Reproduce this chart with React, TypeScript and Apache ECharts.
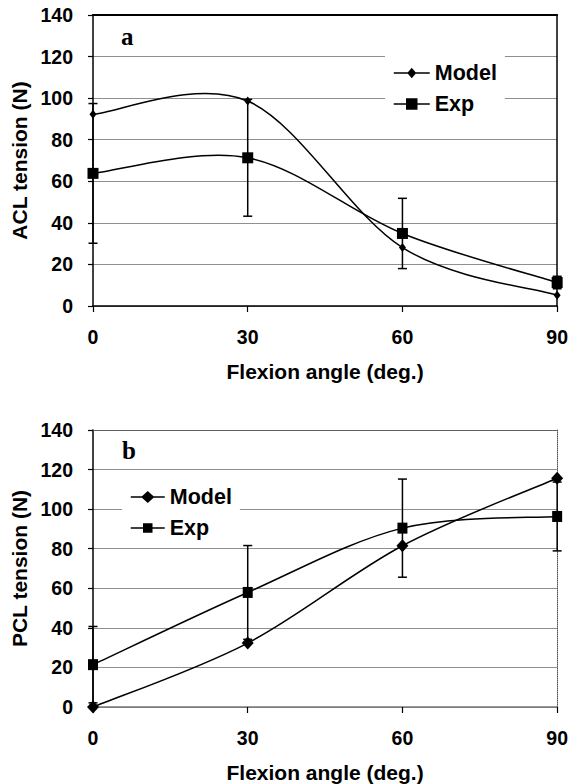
import React, { useEffect, useRef } from "react";
import * as echarts from "echarts";

const angles = [0, 30, 60, 90];
const aclModel = [92.2, 98.6, 28.1, 5.2];
const aclExp = [63.8, 71.3, 34.9, 11.3];
const aclExpErr = [33.6, 28.1, 16.9, 3];
const pclModel = [0, 32.3, 81.5, 115.6];
const pclExp = [21.4, 57.9, 90.4, 96.3];
const pclExpErr = [19.3, 23.7, 24.8, 17.4];
const xMin = 0, xMax = 90, xStep = 30;
const yMin = 0, yMax = 140, yStep = 20;
const seriesNames = ["Model", "Exp"];
const xTitle = "Flexion angle (deg.)";
const yTitleA = "ACL tension (N)";
const yTitleB = "PCL tension (N)";

const SANS = "'Liberation Sans', Arial, sans-serif";
const SERIF = "'Liberation Serif', 'Times New Roman', serif";

function smoothSeg(xs: number[], ys: number[]) {
  return (params: any, api: any) => {
    const i = params.dataIndex;
    const n = xs.length;
    if (i >= n - 1) return null;
    const p = (k: number) => {
      const c = Math.max(0, Math.min(n - 1, k));
      return [xs[c], ys[c]];
    };
    const p0 = p(i - 1), p1 = p(i), p2 = p(i + 1), p3 = p(i + 2);
    const c1 = [p1[0] + (p2[0] - p0[0]) / 6, p1[1] + (p2[1] - p0[1]) / 6];
    const c2 = [p2[0] - (p3[0] - p1[0]) / 6, p2[1] - (p3[1] - p1[1]) / 6];
    const a = api.coord(p1), b = api.coord(c1), c = api.coord(c2), d = api.coord(p2);
    return {
      type: "bezierCurve",
      shape: { x1: a[0], y1: a[1], cpx1: b[0], cpy1: b[1], cpx2: c[0], cpy2: c[1], x2: d[0], y2: d[1] },
      style: { stroke: "#000", lineWidth: 1.5, fill: "none" },
    };
  };
}

function errBars(xs: number[], ys: number[], es: number[]) {
  return (params: any, api: any) => {
    const i = params.dataIndex;
    const top = api.coord([xs[i], ys[i] + es[i]]);
    const bot = api.coord([xs[i], ys[i] - es[i]]);
    const hw = 4.5;
    const style = { stroke: "#000", lineWidth: 1.5 };
    return {
      type: "group",
      children: [
        { type: "line", shape: { x1: top[0], y1: top[1], x2: bot[0], y2: bot[1] }, style },
        { type: "line", shape: { x1: top[0] - hw, y1: top[1], x2: top[0] + hw, y2: top[1] }, style },
        { type: "line", shape: { x1: bot[0] - hw, y1: bot[1], x2: bot[0] + hw, y2: bot[1] }, style },
      ],
    };
  };
}

const pairs = (xs: number[], ys: number[]) => xs.map((x, i) => [x, ys[i]]);

const labelStyle = { color: "#000", fontFamily: SANS, fontWeight: "bold", fontSize: 19.5 };
const nameStyle = { color: "#000", fontFamily: SANS, fontWeight: "bold", fontSize: 21 };

function bottomX(gridIndex: number, lineColor: string) {
  return {
    type: "value", gridIndex, min: xMin, max: xMax, interval: xStep, position: "bottom",
    name: xTitle, nameLocation: "middle", nameGap: 55, nameTextStyle: nameStyle,
    axisLine: { show: true, onZero: false, lineStyle: { color: lineColor, width: 1.5 } },
    axisTick: { show: true, inside: false, length: 6, lineStyle: { color: "#000", width: 1.2 } },
    axisLabel: { ...labelStyle, margin: 21 },
    splitLine: { show: false },
  };
}
function topX(gridIndex: number, lineStyle: any) {
  return {
    type: "value", gridIndex, min: xMin, max: xMax, interval: xStep, position: "top",
    axisLine: { show: true, onZero: false, lineStyle },
    axisTick: { show: false }, axisLabel: { show: false }, splitLine: { show: false },
  };
}
function leftY(gridIndex: number, name: string) {
  return {
    type: "value", gridIndex, min: yMin, max: yMax, interval: yStep, position: "left",
    name, nameLocation: "middle", nameGap: 54, nameTextStyle: nameStyle,
    axisLine: { show: true, onZero: false, lineStyle: { color: "#000", width: 1.5 } },
    axisTick: { show: true, inside: false, length: 5, lineStyle: { color: "#000", width: 1.2 } },
    axisLabel: { ...labelStyle, margin: 20 },
    splitLine: { show: true, lineStyle: { color: "#8f8f8f", width: 1 } },
  };
}
function rightY(gridIndex: number, lineStyle: any) {
  return {
    type: "value", gridIndex, min: yMin, max: yMax, interval: yStep, position: "right",
    axisLine: { show: true, onZero: false, lineStyle },
    axisTick: { show: false }, axisLabel: { show: false }, splitLine: { show: false },
  };
}

export default function App() {
  const ref = useRef<HTMLDivElement>(null);
  useEffect(() => {
    if (!ref.current) return;
    const chart = echarts.init(ref.current, null, { renderer: "svg" });
    const legendText = { color: "#000", fontFamily: SANS, fontWeight: "bold", fontSize: 21.5 };
    const legendItem = { color: "#000", borderColor: "#000", borderWidth: 1.5 };
    const option: any = {
      animation: false,
      backgroundColor: "#fff",
      title: [
        { text: "a", left: 121, top: 24, padding: 0, textStyle: { fontFamily: SERIF, fontWeight: "bold", fontSize: 25, color: "#000" } },
        { text: "b", left: 122, top: 438, padding: 0, textStyle: { fontFamily: SERIF, fontWeight: "bold", fontSize: 25, color: "#000" } },
      ],
      legend: [
        {
          orient: "vertical", left: 385, top: 54, padding: 8, itemGap: 9,
          itemWidth: 36, itemHeight: 12, backgroundColor: "#fff", selectedMode: false,
          textStyle: legendText, itemStyle: legendItem,
          data: [
            { name: seriesNames[0], icon: "path://M18,0 M0,6 L36,6 M18,2 L21.5,6 L18,10 L14.5,6 Z M18,12" },
            { name: seriesNames[1], icon: "path://M18,0 M0,6 L36,6 M13,1 L23,1 L23,11 L13,11 Z M18,12" },
          ],
        },
        {
          orient: "vertical", left: 122, top: 478, padding: 8, itemGap: 9,
          itemWidth: 34, itemHeight: 12, backgroundColor: "#fff", selectedMode: false,
          textStyle: legendText, itemStyle: legendItem,
          data: [
            { name: seriesNames[0], icon: "path://M17,0 M0,6 L34,6 M17,1 L22.5,6 L17,11 L11.5,6 Z M17,12" },
            { name: seriesNames[1], icon: "path://M17,0 M0,6 L34,6 M13,2 L21,2 L21,10 L13,10 Z M17,12" },
          ],
        },
      ],
      grid: [
        { left: 93, width: 465, top: 15, height: 291 },
        { left: 93, width: 465, top: 430, height: 277 },
      ],
      xAxis: [
        bottomX(0, "#000"),
        topX(0, { color: "#000", width: 2 }),
        bottomX(1, "#777"),
        topX(1, { color: "#555", width: 1, type: "dotted" }),
      ],
      yAxis: [
        leftY(0, yTitleA),
        rightY(0, { color: "#000", width: 1.5 }),
        leftY(1, yTitleB),
        rightY(1, { color: "#555", width: 1, type: "dotted" }),
      ],
      series: [
        // Panel a
        { name: "Model", type: "custom", xAxisIndex: 0, yAxisIndex: 0, z: 2, data: pairs(angles, aclModel), encode: { x: 0, y: 1 }, renderItem: smoothSeg(angles, aclModel), itemStyle: { color: "#000" } },
        { name: "Exp", type: "custom", xAxisIndex: 0, yAxisIndex: 0, z: 2, data: pairs(angles, aclExp), encode: { x: 0, y: 1 }, renderItem: smoothSeg(angles, aclExp), itemStyle: { color: "#000" } },
        { name: "Exp", type: "custom", xAxisIndex: 0, yAxisIndex: 0, z: 3, data: pairs(angles, aclExp), encode: { x: 0, y: 1 }, renderItem: errBars(angles, aclExp, aclExpErr), itemStyle: { color: "#000" } },
        { name: "Model", type: "scatter", xAxisIndex: 0, yAxisIndex: 0, z: 4, symbol: "diamond", symbolSize: [7, 9], data: pairs(angles, aclModel), itemStyle: { color: "#000", opacity: 1 } },
        { name: "Exp", type: "scatter", xAxisIndex: 0, yAxisIndex: 0, z: 4, symbol: "rect", symbolSize: [11, 11], data: pairs(angles, aclExp), itemStyle: { color: "#000", opacity: 1 } },
        // Panel b
        { name: "Model", type: "custom", xAxisIndex: 2, yAxisIndex: 2, z: 2, data: pairs(angles, pclModel), encode: { x: 0, y: 1 }, renderItem: smoothSeg(angles, pclModel), itemStyle: { color: "#000" } },
        { name: "Exp", type: "custom", xAxisIndex: 2, yAxisIndex: 2, z: 2, data: pairs(angles, pclExp), encode: { x: 0, y: 1 }, renderItem: smoothSeg(angles, pclExp), itemStyle: { color: "#000" } },
        { name: "Exp", type: "custom", xAxisIndex: 2, yAxisIndex: 2, z: 3, data: pairs(angles, pclExp), encode: { x: 0, y: 1 }, renderItem: errBars(angles, pclExp, pclExpErr), itemStyle: { color: "#000" } },
        { name: "Model", type: "scatter", xAxisIndex: 2, yAxisIndex: 2, z: 4, symbol: "diamond", symbolSize: [12, 13], data: pairs(angles, pclModel), itemStyle: { color: "#000", opacity: 1 } },
        { name: "Exp", type: "scatter", xAxisIndex: 2, yAxisIndex: 2, z: 4, symbol: "rect", symbolSize: [10, 11], data: pairs(angles, pclExp), itemStyle: { color: "#000", opacity: 1 } },
      ],
    };
    chart.setOption(option);
    return () => chart.dispose();
  }, []);
  return <div ref={ref} style={{ position: "fixed", left: 0, top: 0, width: 571, height: 784, background: "#fff" }} />;
}
